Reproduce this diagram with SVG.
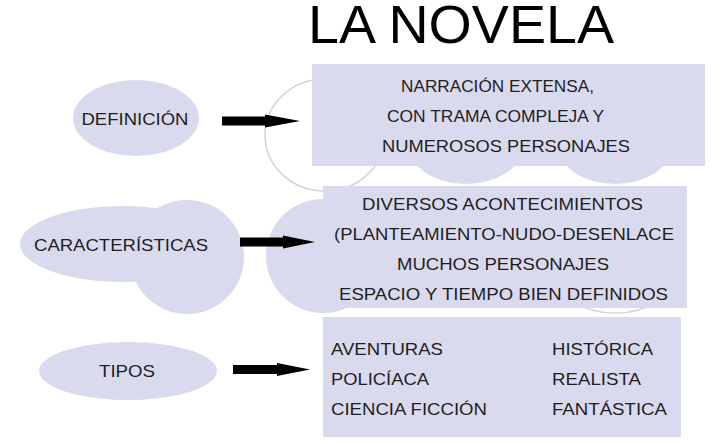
<svg xmlns="http://www.w3.org/2000/svg" width="728" height="445" viewBox="0 0 728 445">
<style>
.bg{fill:#ffffff}
.lav{fill:#dadaee;stroke:none}
.ghost{fill:#ffffff;stroke:#d4d4d8;stroke-width:1.5}
.t{font-family:"Liberation Sans",Arial,sans-serif;font-size:17px;fill:#1e1e1e}
.m{text-anchor:middle}
.title{font-family:"Liberation Sans",Arial,sans-serif;font-size:54px;fill:#000000}
.arrow{fill:#000000}
</style>
<rect class="bg" x="0" y="0" width="728" height="445"/>
<text class="title" x="308" y="43" textLength="306" lengthAdjust="spacingAndGlyphs">LA NOVELA</text>

<g id="definicion">
<ellipse class="lav" cx="136" cy="118" rx="63" ry="38"/>
<text class="t m" x="135" y="125" textLength="107" lengthAdjust="spacingAndGlyphs">DEFINICIÓN</text>
</g>

<g id="caracteristicas">
<ellipse class="lav" cx="122" cy="244" rx="102" ry="38"/>
<circle class="lav" cx="187" cy="257" r="57"/>
<text class="t m" x="121" y="251" textLength="174" lengthAdjust="spacingAndGlyphs">CARACTERÍSTICAS</text>
</g>

<g id="tipos">
<ellipse class="lav" cx="128" cy="371" rx="89" ry="29"/>
<text class="t m" x="127" y="377" textLength="56" lengthAdjust="spacingAndGlyphs">TIPOS</text>
</g>

<g id="definicion-box">
<ellipse class="ghost" cx="325" cy="135" rx="60" ry="56"/>
<ellipse class="lav" cx="466" cy="144" rx="58" ry="40"/>
<ellipse class="lav" cx="615" cy="144" rx="58" ry="40"/>
<rect class="lav" x="312" y="64" width="393" height="102"/>
<text class="t m" x="497.5" y="92" textLength="193" lengthAdjust="spacingAndGlyphs">NARRACIÓN EXTENSA,</text>
<text class="t m" x="495.5" y="122" textLength="217" lengthAdjust="spacingAndGlyphs">CON TRAMA COMPLEJA Y</text>
<text class="t m" x="506" y="152" textLength="248" lengthAdjust="spacingAndGlyphs">NUMEROSOS PERSONAJES</text>
</g>

<g id="caracteristicas-box">
<circle class="lav" cx="323" cy="256" r="57"/>
<ellipse class="ghost" cx="615" cy="273" rx="60" ry="40"/>
<rect class="lav" x="323" y="186" width="364" height="122"/>
<text class="t m" x="502.5" y="210" textLength="281" lengthAdjust="spacingAndGlyphs">DIVERSOS ACONTECIMIENTOS</text>
<text class="t m" x="504" y="240" textLength="340" lengthAdjust="spacingAndGlyphs">(PLANTEAMIENTO-NUDO-DESENLACE</text>
<text class="t m" x="503" y="270" textLength="212" lengthAdjust="spacingAndGlyphs">MUCHOS PERSONAJES</text>
<text class="t m" x="503.5" y="300" textLength="329" lengthAdjust="spacingAndGlyphs">ESPACIO Y TIEMPO BIEN DEFINIDOS</text>
</g>

<g id="tipos-box">
<rect class="lav" x="323" y="317" width="358" height="120"/>
<text class="t" x="331" y="355" textLength="112" lengthAdjust="spacingAndGlyphs">AVENTURAS</text>
<text class="t" x="331" y="385" textLength="98" lengthAdjust="spacingAndGlyphs">POLICÍACA</text>
<text class="t" x="331" y="415" textLength="156" lengthAdjust="spacingAndGlyphs">CIENCIA FICCIÓN</text>
<text class="t" x="552" y="355" textLength="101" lengthAdjust="spacingAndGlyphs">HISTÓRICA</text>
<text class="t" x="552" y="385" textLength="89" lengthAdjust="spacingAndGlyphs">REALISTA</text>
<text class="t" x="552" y="415" textLength="115" lengthAdjust="spacingAndGlyphs">FANTÁSTICA</text>
</g>

<g id="connectors">
<polygon class="arrow" points="222,116.5 265,116.5 265,114.5 300,121 265,127.5 265,125.5 222,125.5"/>
<polygon class="arrow" points="240,237.5 283,237.5 283,235.5 315,242 283,248.5 283,246.5 240,246.5"/>
<polygon class="arrow" points="233,365 277,365 277,363 310,369.5 277,376 277,374 233,374"/>
</g>
</svg>
